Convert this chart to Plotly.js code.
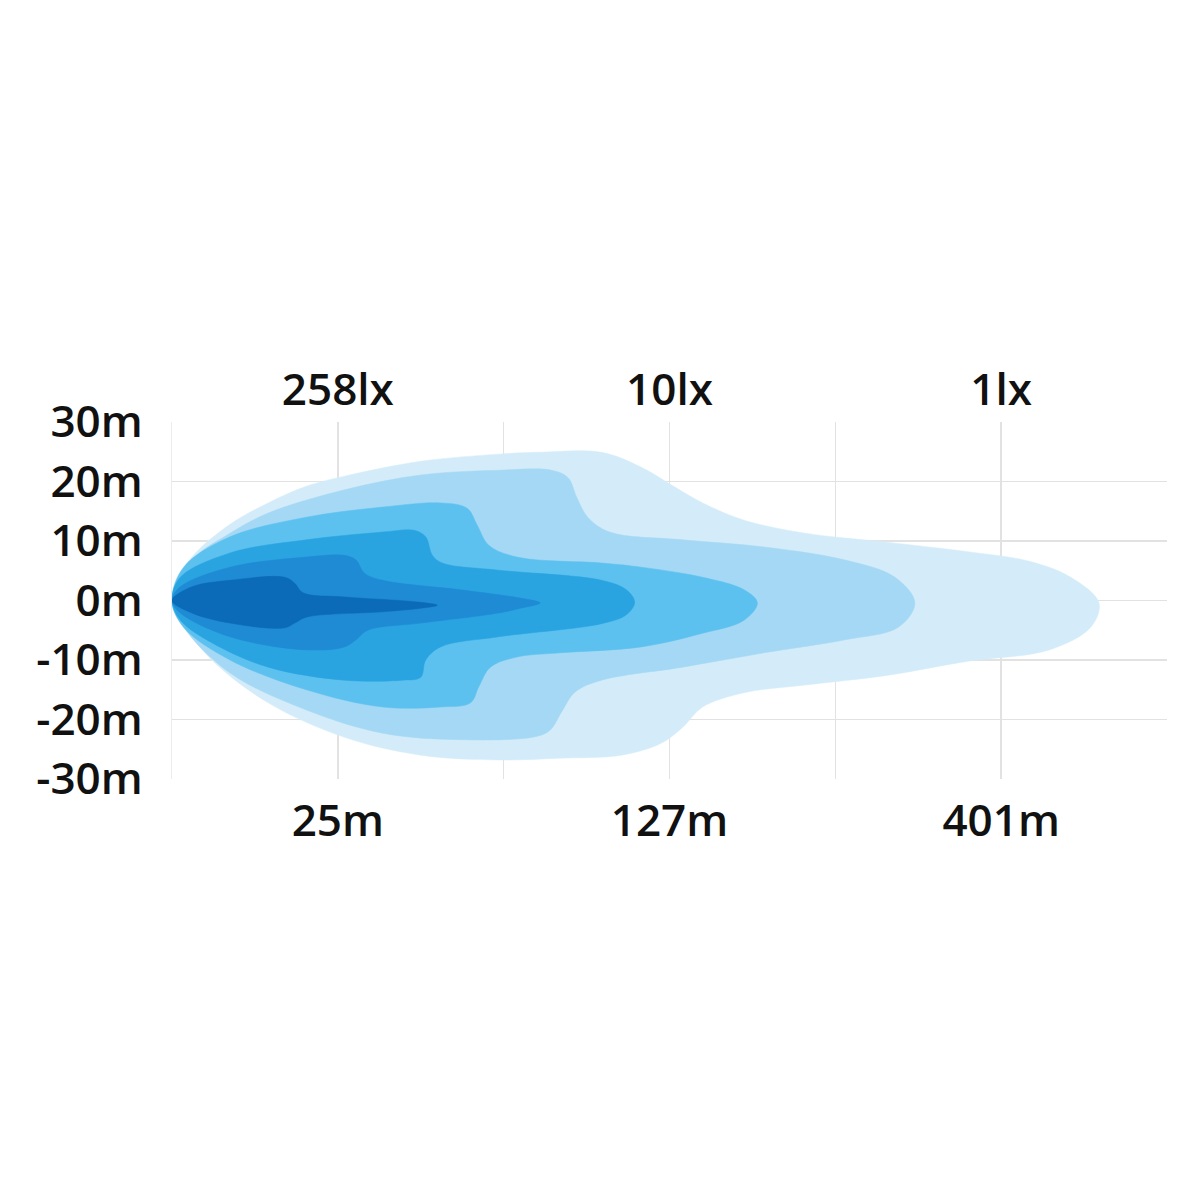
<!DOCTYPE html>
<html>
<head>
<meta charset="utf-8">
<script src="https://cdn.plot.ly/plotly-3.0.1.min.js"></script>
<style>html,body{margin:0;padding:0;background:#fff;}#chart{width:1200px;height:1200px;}</style>
</head>
<body>
<div id="chart"></div>
<script>
// Axis labels
const gridPositions = [0, 1, 2, 3, 4, 5, 6];
const distanceLabels = ['', '25m', '', '127m', '', '401m', ''];
const luxLabels = ['', '258lx', '', '10lx', '', '1lx', ''];
const yTickValues = [30, 20, 10, 0, -10, -20, -30];
const yTickLabels = ['30m', '20m', '10m', '0m', '-10m', '-20m', '-30m'];

// Isolux contours (x in grid units, y in metres), outermost to innermost
const lux1X = [0, 0.024, 0.12, 0.35, 0.58, 0.81, 1.04, 1.50, 1.97, 2.20, 2.59, 2.83, 3.03, 3.20, 3.45, 3.82, 4.31, 4.80, 5.17, 5.42, 5.59, 5.54, 5.29, 4.80, 4.31, 3.82, 3.45, 3.20, 3.08, 2.95, 2.71, 2.34, 1.97, 1.50, 1.04, 0.58, 0.24, 0.05, 0];
const lux1Y = [0, 2.6, 7.3, 12.8, 16.4, 19.2, 20.9, 23.4, 24.6, 24.9, 24.9, 22.4, 19.1, 16.4, 13.5, 11.3, 9.8, 8.2, 6.6, 3.9, -0.4, -4.5, -8.3, -10.2, -12.6, -14.2, -15.5, -17.9, -21.3, -24.0, -26.0, -26.5, -26.8, -26.0, -23.0, -17.2, -10.0, -3.3, 0];

const lux2X = [0, 0.12, 0.35, 0.58, 1.04, 1.50, 1.97, 2.29, 2.39, 2.44, 2.51, 2.64, 3.08, 3.57, 4.06, 4.36, 4.48, 4.38, 4.06, 3.57, 3.08, 2.59, 2.43, 2.35, 2.28, 2.19, 1.74, 1.27, 0.81, 0.35, 0.07, 0];
const lux2Y = [0, 6.8, 11.3, 14.7, 18.6, 21.1, 21.9, 21.9, 20.6, 17.4, 13.9, 11.5, 10.2, 9.0, 6.8, 3.9, -0.4, -4.5, -6.6, -8.8, -11.2, -13.4, -15.4, -18.7, -21.8, -22.9, -23.4, -22.3, -18.4, -12.2, -4.5, 0];

const lux3X = [0, 0.07, 0.35, 0.81, 1.27, 1.62, 1.78, 1.84, 1.91, 2.08, 2.59, 2.83, 3.20, 3.45, 3.53, 3.45, 3.20, 2.83, 2.34, 2.08, 1.92, 1.85, 1.80, 1.62, 1.27, 0.81, 0.35, 0.07, 0];
const lux3Y = [0, 5.6, 10.7, 14.0, 15.7, 16.4, 15.5, 12.7, 9.3, 7.3, 6.3, 5.6, 3.9, 1.8, -0.4, -3.3, -5.5, -7.8, -8.8, -9.5, -11.2, -14.5, -17.2, -17.9, -17.9, -15.0, -10.0, -4.5, 0];

const lux4X = [0, 0.05, 0.35, 0.81, 1.27, 1.46, 1.53, 1.57, 1.63, 1.97, 2.59, 2.74, 2.79, 2.74, 2.59, 1.97, 1.62, 1.53, 1.50, 1.39, 1.04, 0.58, 0.24, 0.05, 0];
const lux4Y = [0, 3.9, 8.0, 10.2, 11.5, 11.8, 10.7, 7.6, 6.3, 5.1, 3.4, 1.8, -0.3, -2.4, -3.9, -6.1, -7.8, -10.0, -12.9, -13.4, -13.4, -11.2, -7.1, -3.3, 0];

const lux5X = [0, 0.05, 0.35, 0.81, 1.04, 1.11, 1.16, 1.27, 1.74, 2.10, 2.22, 2.10, 1.97, 1.50, 1.18, 1.11, 1.04, 0.81, 0.35, 0.05, 0];
const lux5Y = [0, 2.3, 5.6, 7.3, 7.6, 6.8, 4.6, 3.4, 1.8, 0.4, -0.4, -1.3, -2.1, -3.8, -5.0, -6.6, -7.8, -8.3, -6.1, -2.1, 0];

const lux6X = [0, 0.12, 0.35, 0.68, 0.74, 0.79, 1.04, 1.50, 1.60, 1.50, 1.27, 0.81, 0.74, 0.68, 0.35, 0.12, 0];
const lux6Y = [0, 2.3, 3.4, 3.9, 2.9, 1.3, 0.6, -0.3, -0.8, -1.3, -1.9, -2.8, -3.8, -4.6, -3.8, -2.1, 0];

const layerColors = ['#d4ecf9', '#a5d8f4', '#5dc1ef', '#29a4e0', '#1f8bd4', '#0b6bb8'];

const contours = [[lux1X, lux1Y], [lux2X, lux2Y], [lux3X, lux3Y], [lux4X, lux4Y], [lux5X, lux5Y], [lux6X, lux6Y]];

const traces = contours.map(function (c, i) {
  return {
    type: 'scatter', mode: 'lines', x: c[0], y: c[1],
    fill: 'toself', fillcolor: layerColors[i],
    line: {color: layerColors[i], width: 0.5, shape: 'spline', smoothing: 1},
    hoverinfo: 'skip', showlegend: false
  };
});
traces.push({type: 'scatter', mode: 'markers', x: [0, 6], y: [0, 0], xaxis: 'x2', marker: {opacity: 0}, hoverinfo: 'skip', showlegend: false});

const tickFont = {family: 'Open Sans, Noto Sans, sans-serif', size: 44, color: '#111111', weight: 600};

const layout = {
  width: 1200, height: 1200,
  paper_bgcolor: '#ffffff', plot_bgcolor: '#ffffff',
  margin: {l: 172, r: 33, t: 422, b: 421, pad: 0},
  showlegend: false,
  xaxis: {
    range: [0, 6], tickmode: 'array', tickvals: gridPositions, ticktext: distanceLabels,
    showgrid: true, gridcolor: '#e2e2e2', gridwidth: 1.5, zeroline: false, showline: false,
    ticks: 'outside', ticklen: 3, tickcolor: 'rgba(0,0,0,0)', tickfont: tickFont, fixedrange: true
  },
  xaxis2: {
    range: [0, 6], overlaying: 'x', side: 'top', tickmode: 'array', tickvals: gridPositions, ticktext: luxLabels,
    showgrid: false, zeroline: false, showline: false,
    ticks: '', ticklabelstandoff: 7, tickfont: tickFont, fixedrange: true
  },
  yaxis: {
    range: [-30, 30], tickmode: 'array', tickvals: yTickValues, ticktext: yTickLabels,
    showgrid: true, gridcolor: '#e2e2e2', gridwidth: 1.5, zeroline: false,
    showline: true, linecolor: '#ececec', linewidth: 1.5, mirror: false,
    ticks: 'outside', ticklen: 19, tickcolor: 'rgba(0,0,0,0)', tickfont: tickFont, fixedrange: true
  }
};

Plotly.newPlot('chart', traces, layout, {displayModeBar: false, staticPlot: true});
</script>
</body>
</html>
